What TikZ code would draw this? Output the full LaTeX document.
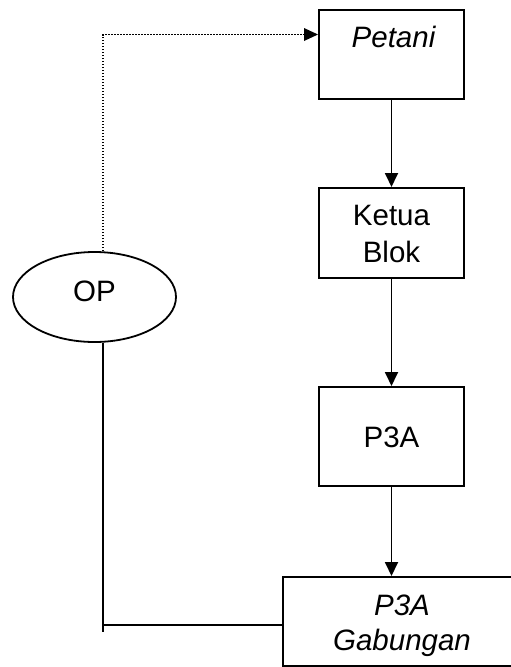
\documentclass[tikz,border=0pt]{standalone}
\usepackage{fontspec}
\setmainfont{Liberation Sans}
\usetikzlibrary{shapes.geometric,arrows.meta}
\begin{document}
\begin{tikzpicture}[x=1pt,y=-1pt,
  every node/.style={font=\fontsize{29.5}{37}\selectfont},
  boxnode/.style={draw,line width=2pt,rectangle,inner sep=0pt,minimum width=145pt},
  label/.style={inner sep=0pt,align=center},
  flow/.style={line width=1.8pt,-{Triangle[length=14pt,width=13pt]}},
  plain/.style={line width=1.8pt},
  dots/.style={line width=1.4pt,dash pattern=on 1.3pt off 1.7pt}]
\useasboundingbox (0,0) rectangle (511,667);
\clip (0,0) rectangle (511,667);

% boxes of the chain
\node[boxnode,minimum height=89pt] (petani) at (391.5,54.5) {};
\node[label,anchor=base] (petanitxt) at (393.5,47) {\itshape Petani};
\node[boxnode,minimum height=90pt] (ketua) at (391.5,233) {};
\node[label,anchor=base] (ketuatxt) at (391.5,262) {Ketua\\Blok};
\node[boxnode,minimum height=99pt] (p3a) at (391.5,436.5) {};
\node[label,anchor=base] (p3atxt) at (391.5,447) {P3A};
\node[boxnode,minimum width=238pt,minimum height=88.5pt] (gab) at (402,621.25) {};
\node[label,anchor=base,font=\fontsize{29.5}{35}\selectfont] (gabtxt) at (402,650) {\itshape P3A\\\itshape Gabungan};

% the OP ellipse
\node[draw,ellipse,line width=1.8pt,inner sep=0pt,minimum width=163pt,minimum height=90pt] (op) at (94.5,297) {};
\node[label,anchor=base] (optxt) at (94.5,301) {OP};

% vertical flow
\draw[flow] (petani.south) -- (ketua.north);
\draw[flow] (ketua.south) -- (p3a.north);
\draw[flow] (p3a.south) -- (p3a.south |- gab.north);

% dotted link from OP to Petani, ending in a solid head
\coordinate (dtop) at ([xshift=8.5pt]op.north);
\coordinate (pin) at ([yshift=20pt]petani.west);
\draw[dots] (dtop) |- ([xshift=-13pt]pin);
\path[fill=black] (pin) -- ++(-14,-6.5) -- ++(0,13) -- cycle;

% solid link from OP to P3A Gabungan
\coordinate (dbot) at ([xshift=8.5pt]op.south);
\coordinate (tail) at (103,632);
\coordinate (joint) at (103,625);
\draw[plain] (dbot) -- (tail);
\draw[plain] (joint) -- (joint -| gab.west);
\end{tikzpicture}
\end{document}
